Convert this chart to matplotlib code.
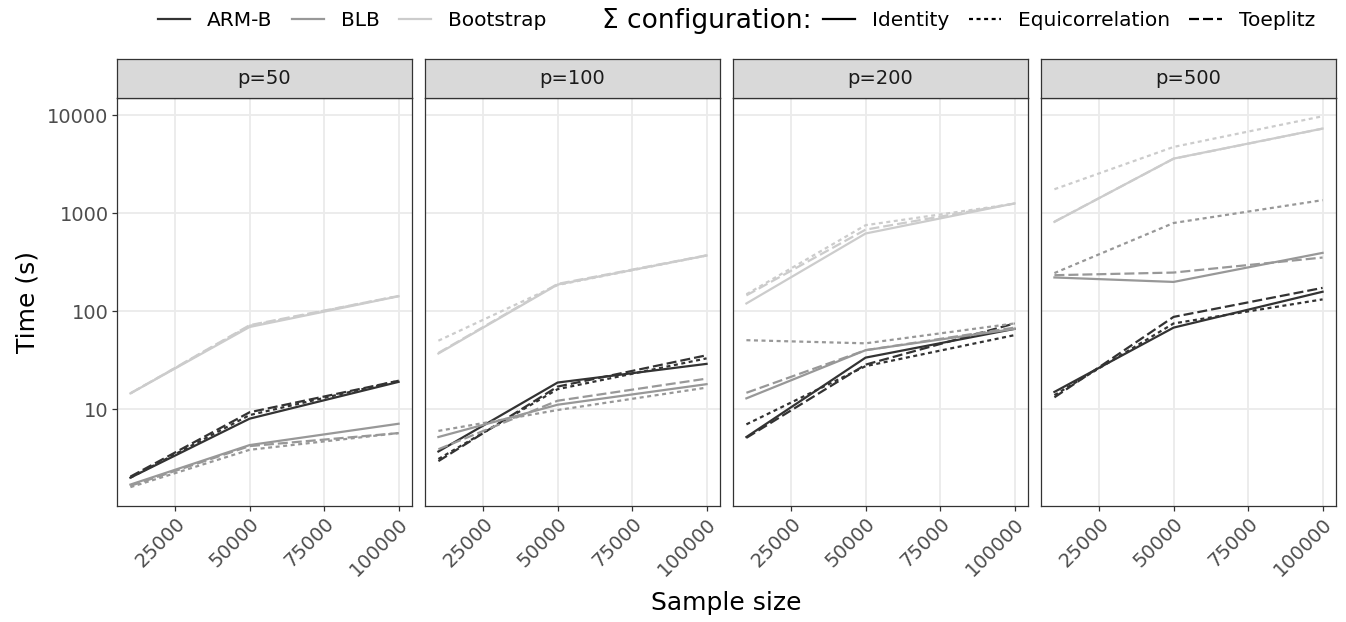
import matplotlib
matplotlib.use("Agg")
import matplotlib.pyplot as plt
from matplotlib.lines import Line2D
from matplotlib.ticker import FixedLocator, FuncFormatter, NullLocator
import numpy as np

# dane, odčitane s slike (čas v sekundah)
sample_sizes = [10000, 50000, 100000]
p_values = [50, 100, 200, 500]
methods = ["ARM-B", "BLB", "Bootstrap"]
configs = ["Identity", "Equicorrelation", "Toeplitz"]

# vsaka vrstica je en p (50, 100, 200, 500), stolpci so velikosti vzorca
armb_identity = [[2.0, 8.0, 19.0], [3.7, 18.7, 29.0], [5.2, 33.6, 66.0], [15.0, 68.0, 158.0]]
armb_equi = [[2.0, 8.7, 19.5], [3.1, 16.0, 33.0], [7.0, 27.5, 57.0], [13.9, 75.0, 132.0]]
armb_toeplitz = [[2.05, 9.3, 19.5], [2.95, 17.0, 35.5], [5.1, 28.5, 75.0], [13.2, 87.5, 173.0]]

blb_identity = [[1.7, 4.3, 7.1], [5.2, 11.1, 18.0], [12.9, 40.0, 66.0], [221.0, 199.0, 394.0]]
blb_equi = [[1.6, 3.85, 5.7], [6.0, 9.8, 16.6], [50.6, 47.0, 75.0], [245.0, 795.0, 1360.0]]
blb_toeplitz = [[1.65, 4.2, 5.7], [3.9, 12.2, 20.5], [14.7, 40.0, 68.0], [233.0, 248.0, 353.0]]

boot_identity = [[14.5, 69.0, 142.0], [37.0, 187.0, 370.0], [120.0, 621.0, 1260.0], [816.0, 3610.0, 7310.0]]
boot_equi = [[14.5, 71.0, 143.0], [50.0, 185.0, 370.0], [149.0, 755.0, 1250.0], [1757.0, 4750.0, 9770.0]]
boot_toeplitz = [[14.5, 72.0, 143.0], [37.5, 190.0, 372.0], [145.0, 680.0, 1255.0], [820.0, 3600.0, 7300.0]]

series = {
	"ARM-B": [armb_identity, armb_equi, armb_toeplitz],
	"BLB": [blb_identity, blb_equi, blb_toeplitz],
	"Bootstrap": [boot_identity, boot_equi, boot_toeplitz],
}

# izgled
barve = {"ARM-B": "#333333", "BLB": "#989898", "Bootstrap": "#CCCCCC"}
lw = 1.6
crte = {"Identity": "-", "Equicorrelation": (0, (1.8, 1.6)), "Toeplitz": (0, (4.5, 1.8))}
border = "#333333"

W, H = 1346, 622
fig = plt.figure(figsize=(W / 100, H / 100), dpi=100)

left0 = 117 / W
pw = 295 / W
gap = 13 / W
bottom = 1 - 505.7 / H
ph = (505.7 - 97.7) / H
sh = 38.7 / H

# meje osi kot v ggplot (5 % razširitve)
vse = np.array([series[m] for m in methods]).ravel()
lmin, lmax = np.log10(vse.min()), np.log10(vse.max())
ex = 0.05 * (lmax - lmin)
ylim = (10 ** (lmin - ex), 10 ** (lmax + ex))
xr = sample_sizes[-1] - sample_sizes[0]
xlim = (sample_sizes[0] - 0.05 * xr, sample_sizes[-1] + 0.05 * xr)

for i, p in enumerate(p_values):
	x0 = left0 + i * (pw + gap)
	ax = fig.add_axes([x0, bottom, pw, ph])
	ax.set_yscale("log")
	ax.set_xlim(*xlim)
	ax.set_ylim(*ylim)

	ax.set_xticks([25000, 50000, 75000, 100000])
	ax.set_xticklabels(["25000", "50000", "75000", "100000"], rotation=45,
		ha="right", va="top", rotation_mode="anchor")
	ax.yaxis.set_major_locator(FixedLocator([10, 100, 1000, 10000]))
	ax.yaxis.set_major_formatter(FuncFormatter(lambda v, pos: "%d" % v))
	ax.yaxis.set_minor_locator(NullLocator())
	ax.xaxis.set_minor_locator(NullLocator())

	ax.grid(True, which="major", color="#EBEBEB", linewidth=1.3)
	ax.set_axisbelow(True)
	for s in ax.spines.values():
		s.set_color(border)
		s.set_linewidth(0.9)

	ax.tick_params(axis="both", length=3.6, width=0.9, color=border,
		labelcolor="#4D4D4D", labelsize=14, pad=2.5)
	if i > 0:
		ax.tick_params(axis="y", left=False, labelleft=False)

	for m in methods:
		for c, data in zip(configs, series[m]):
			ax.plot(sample_sizes, data[i], color=barve[m], linestyle=crte[c], linewidth=lw)

	# trak z naslovom panela
	sax = fig.add_axes([x0, bottom + ph, pw, sh])
	sax.set_facecolor("#D9D9D9")
	sax.set_xticks([])
	sax.set_yticks([])
	for s in sax.spines.values():
		s.set_color(border)
		s.set_linewidth(0.9)
	sax.text(0.5, 0.5, "p=%d" % p, ha="center", va="center", fontsize=14,
		color="#1A1A1A", transform=sax.transAxes)

# oznake osi
fig.text(28 / W, 1 - 301.7 / H, "Time (s)", rotation=90, ha="center", va="center", fontsize=18)
fig.text(726 / W, 1 - 603 / H, "Sample size", ha="center", va="center", fontsize=18)

# legenda
ly = 1 - 21 / H
h1 = [Line2D([], [], color=barve[m], linewidth=lw) for m in methods]
leg1 = fig.legend(h1, methods, loc="center left", bbox_to_anchor=(158 / W, ly), ncol=3,
	frameon=False, fontsize=14.5, handlelength=1.6, handletextpad=0.85,
	columnspacing=0.95, borderpad=0, borderaxespad=0)
fig.text(602 / W, ly, "Σ configuration:", ha="left", va="center", fontsize=19)
h2 = [Line2D([], [], color="black", linestyle=crte[c], linewidth=lw) for c in configs]
leg2 = fig.legend(h2, configs, loc="center left", bbox_to_anchor=(823 / W, ly), ncol=3,
	frameon=False, fontsize=14.5, handlelength=1.6, handletextpad=0.85,
	columnspacing=0.95, borderpad=0, borderaxespad=0)

fig.savefig("out.png", dpi=100)
